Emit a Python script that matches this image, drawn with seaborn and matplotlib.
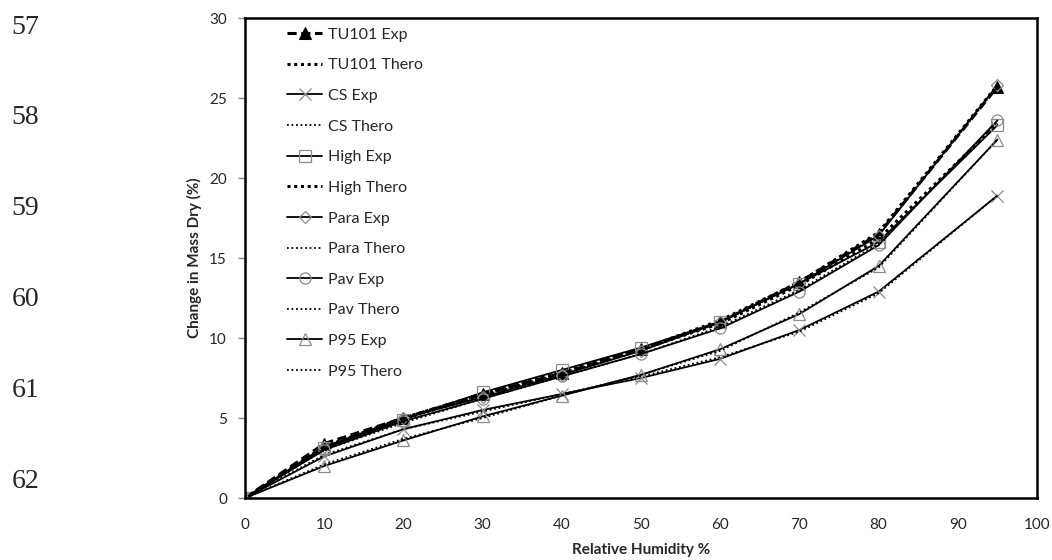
import matplotlib
matplotlib.use("Agg")
import matplotlib.pyplot as plt
import seaborn as sns

# relative humidity steps
rh = [0, 10, 20, 30, 40, 50, 60, 70, 80, 95]

# experimental and theoretical mass change (%)
tu101_exp = [0, 3.4, 5.0, 6.5, 7.8, 9.3, 11.0, 13.5, 16.5, 25.7]
tu101_thero = [0, 3.2, 5.0, 6.5, 7.9, 9.3, 11.1, 13.5, 16.6, 25.8]
cs_exp = [0, 2.6, 4.3, 5.5, 6.5, 7.5, 8.7, 10.5, 12.9, 18.9]
cs_thero = [0, 2.7, 4.3, 5.4, 6.5, 7.6, 8.8, 10.4, 12.8, 18.9]
high_exp = [0, 3.1, 4.9, 6.6, 8.0, 9.4, 11.0, 13.4, 16.0, 23.3]
high_thero = [0, 3.2, 5.0, 6.4, 7.8, 9.3, 10.9, 13.3, 16.2, 23.4]
para_exp = [0, 3.2, 5.0, 6.3, 7.7, 9.2, 11.0, 13.4, 16.4, 25.8]
para_thero = [0, 3.1, 4.9, 6.4, 7.8, 9.2, 11.0, 13.4, 16.5, 25.7]
pav_exp = [0, 3.0, 4.8, 6.2, 7.6, 9.0, 10.6, 12.9, 15.8, 23.6]
pav_thero = [0, 3.0, 4.7, 6.2, 7.6, 9.0, 10.7, 13.0, 15.9, 23.5]
p95_exp = [0, 2.0, 3.6, 5.1, 6.4, 7.7, 9.3, 11.5, 14.5, 22.4]
p95_thero = [0, 2.1, 3.7, 5.0, 6.4, 7.7, 9.2, 11.6, 14.4, 22.4]

labels = ["TU101 Exp", "TU101 Thero", "CS Exp", "CS Thero", "High Exp", "High Thero",
          "Para Exp", "Para Thero", "Pav Exp", "Pav Thero", "P95 Exp", "P95 Thero"]
series = [tu101_exp, tu101_thero, cs_exp, cs_thero, high_exp, high_thero,
          para_exp, para_thero, pav_exp, pav_thero, p95_exp, p95_thero]

gray = "#8c8c8c"
styles = [
    dict(linestyle=(0, (3, 1.5)), lw=2.2, marker="^", ms=8, mfc="black", mec="black"),
    dict(linestyle=(0, (1, 1.2)), lw=2.2, marker=None),
    dict(linestyle="-", lw=1.3, marker="x", ms=9, mec=gray, mew=0.9),
    dict(linestyle=(0, (1, 1.5)), lw=1.3, marker=None),
    dict(linestyle="-", lw=1.3, marker="s", ms=8, mfc="none", mec=gray, mew=0.9),
    dict(linestyle=(0, (1, 1.2)), lw=2.2, marker=None),
    dict(linestyle="-", lw=1.3, marker="D", ms=6, mfc="none", mec=gray, mew=0.9),
    dict(linestyle=(0, (1, 1.5)), lw=1.3, marker=None),
    dict(linestyle="-", lw=1.3, marker="o", ms=8, mfc="none", mec=gray, mew=0.9),
    dict(linestyle=(0, (1, 1.5)), lw=1.3, marker=None),
    dict(linestyle="-", lw=1.3, marker="^", ms=9, mfc="none", mec=gray, mew=0.9),
    dict(linestyle=(0, (1, 1.5)), lw=1.3, marker=None),
]

sns.set_style("white")
plt.rcParams["font.family"] = ["Lato", "DejaVu Sans"]

fig = plt.figure(figsize=(10.52, 5.6), dpi=100)
ax = fig.add_axes([245 / 1052, 62 / 560, 792 / 1052, 480 / 560])

for lab, vals, st in zip(labels, series, styles):
    sns.lineplot(x=rh, y=vals, ax=ax, color="black", label=lab, **st)

ax.set_xlim(0, 100)
ax.set_ylim(0, 30)
ax.set_xticks(range(0, 101, 10))
ax.set_yticks(range(0, 31, 5))
ax.tick_params(axis="y", labelsize=11, direction="out", length=5, width=1,
               left=True, color="#808080", pad=8)
ax.tick_params(axis="x", labelsize=11, bottom=False, pad=11)
for sp in ax.spines.values():
    sp.set_color("black")
    sp.set_linewidth(1.8)

ax.set_xlabel("Relative Humidity %", fontsize=11, fontweight="bold", labelpad=8)
ax.set_ylabel("Change in Mass Dry (%)", fontsize=11, fontweight="bold", labelpad=5)

ax.legend(loc="upper left", bbox_to_anchor=(0.035, 1.01), frameon=False, fontsize=11.5,
          handlelength=2.2, labelspacing=1.03, handletextpad=0.35)

# manuscript line numbers at the left margin
for i, num in enumerate(range(57, 63)):
    fig.text(0.011, 1 - (27 + i * 90.8) / 560, str(num), fontsize=20,
             family="Liberation Serif", va="center", ha="left")

fig.savefig("out.png", dpi=100)
